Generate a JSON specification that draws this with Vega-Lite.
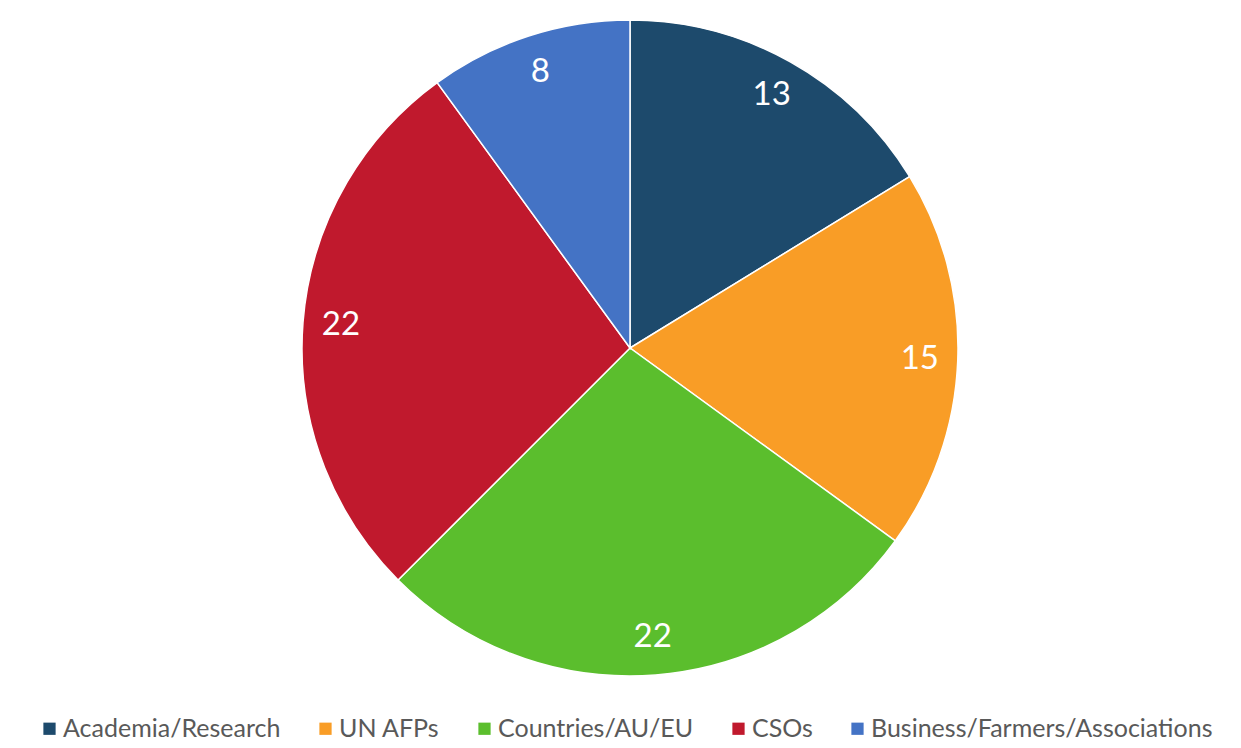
{
  "$schema": "https://vega.github.io/schema/vega-lite/v6.json",
  "width": 1240,
  "height": 696,
  "padding": {"left": 10, "top": 0, "right": 0, "bottom": 0},
  "autosize": {"type": "pad"},
  "background": "white",
  "view": {"stroke": null},
  "data": {
    "values": [
      {"category": "Academia/Research", "count": 13, "idx": 1},
      {"category": "UN AFPs", "count": 15, "idx": 2},
      {"category": "Countries/AU/EU", "count": 22, "idx": 3},
      {"category": "CSOs", "count": 22, "idx": 4},
      {"category": "Business/Farmers/Associations", "count": 8, "idx": 5}
    ]
  },
  "encoding": {
    "theta": {"field": "count", "type": "quantitative", "stack": true},
    "order": {"field": "idx", "type": "quantitative", "sort": "ascending"},
    "color": {
      "field": "category",
      "type": "nominal",
      "sort": ["Academia/Research", "UN AFPs", "Countries/AU/EU", "CSOs", "Business/Farmers/Associations"],
      "scale": {
        "domain": ["Academia/Research", "UN AFPs", "Countries/AU/EU", "CSOs", "Business/Farmers/Associations"],
        "range": ["#1D4A6C", "#F99D26", "#5BBE2D", "#C0192D", "#4473C5"]
      },
      "legend": {
        "title": null,
        "orient": "none",
        "legendX": 27,
        "legendY": 716,
        "direction": "horizontal",
        "columns": 5,
        "columnPadding": 32,
        "symbolType": "square",
        "symbolSize": 150,
        "symbolStrokeWidth": 0,
        "symbolOffset": 0,
        "labelFont": "Lato",
        "labelFontSize": 25,
        "labelColor": "#595959",
        "labelOffset": 1,
        "labelLimit": 500
      }
    }
  },
  "layer": [
    {
      "mark": {"type": "arc", "outerRadius": 328, "stroke": "white", "strokeWidth": 1.5}
    },
    {
      "mark": {"type": "text", "radius": 290, "font": "Lato", "fontSize": 33, "color": "white"},
      "encoding": {
        "text": {"field": "count", "type": "quantitative"},
        "color": {"value": "white"}
      }
    }
  ]
}
